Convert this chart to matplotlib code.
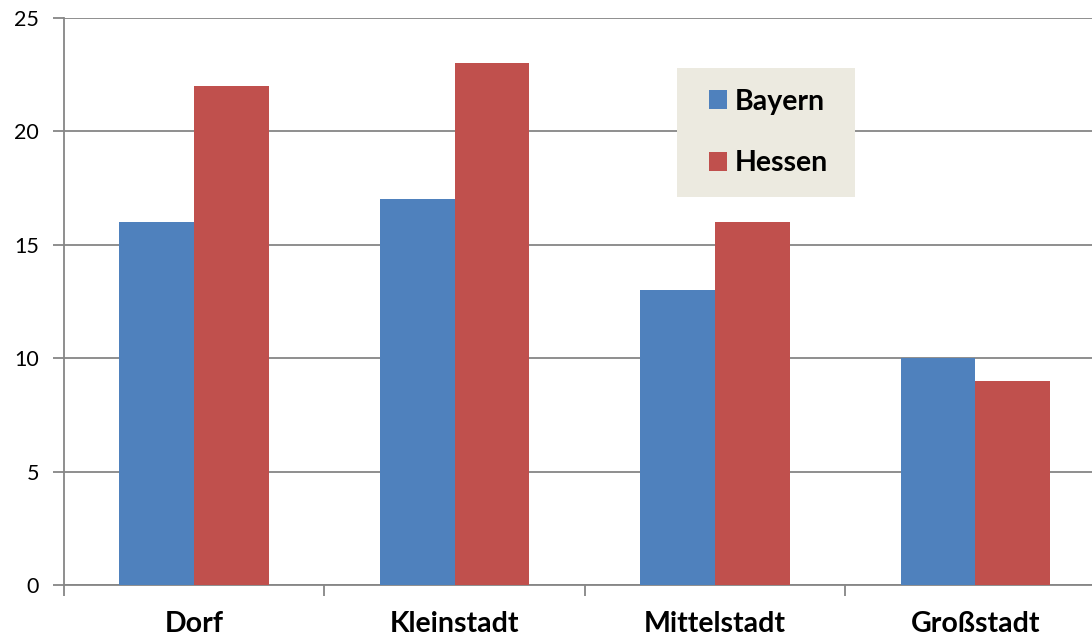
import matplotlib
matplotlib.use("Agg")
import matplotlib.pyplot as plt
from matplotlib.patches import Rectangle, Patch
import numpy as np

categories = ["Dorf", "Kleinstadt", "Mittelstadt", "Großstadt"]
bayern = [16, 17, 13, 10]
hessen = [22, 23, 16, 9]
series_names = ["Bayern", "Hessen"]
yticks = [0, 5, 10, 15, 20, 25]

blue = "#4F81BD"
red = "#C0504D"
grid_c = "#868686"
font = ["Lato", "DejaVu Sans"]

W, H = 1092, 640
fig = plt.figure(figsize=(W / 100, H / 100), dpi=100)
left, right_px, top, bottom = 64, 64 + 4 * 260.4, 18, 585
ax = fig.add_axes([left / W, (H - bottom) / H, (right_px - left) / W, (bottom - top) / H])

x = np.arange(len(categories))
bw = 0.287
ax.bar(x - bw / 2, bayern, bw, color=blue, zorder=3, label=series_names[0])
ax.bar(x + bw / 2, hessen, bw, color=red, zorder=3, label=series_names[1])

ax.set_xlim(-0.5, len(categories) - 0.5)
ax.set_ylim(0, 25)
ax.set_yticks(yticks)
ax.set_yticklabels([str(v) for v in yticks], fontsize=15.5, family=font)
ax.yaxis.grid(True, color=grid_c, linewidth=1.3, zorder=0)
ax.set_axisbelow(True)

ax.set_xticks(np.arange(len(categories) + 1) - 0.5)
ax.set_xticklabels([])
ax.set_xticks(x, minor=True)
ax.set_xticklabels(categories, minor=True, fontsize=20.5, fontweight="bold", family=font)
ax.tick_params(axis="x", which="major", length=8, width=1.3, color=grid_c, direction="out")
ax.tick_params(axis="x", which="minor", length=0, pad=19)
ax.tick_params(axis="y", length=8, width=1.3, color=grid_c, direction="out", pad=10)

for s in ["top", "right"]:
    ax.spines[s].set_visible(False)
for s in ["left", "bottom"]:
    ax.spines[s].set_color(grid_c)
    ax.spines[s].set_linewidth(1.3)

# legend background box
lx0, ly0, lx1, ly1 = 677, 68, 855, 197
fig.patches.append(Rectangle((lx0 / W, 1 - ly1 / H), (lx1 - lx0) / W, (ly1 - ly0) / H,
                             transform=fig.transFigure, facecolor="#ECEAE0",
                             edgecolor="none", zorder=5))
handles = [Patch(facecolor=blue), Patch(facecolor=red)]
leg = fig.legend(handles, series_names, loc="center",
                 bbox_to_anchor=((lx0 + lx1) / 2 / W + 0.002, 1 - (ly0 + ly1) / 2 / H),
                 frameon=False, prop={"family": font, "weight": "bold", "size": 20.5},
                 handlelength=0.65, handleheight=0.65, handletextpad=0.25,
                 labelspacing=1.25)
leg.set_zorder(6)

fig.savefig("out.png", dpi=100)
